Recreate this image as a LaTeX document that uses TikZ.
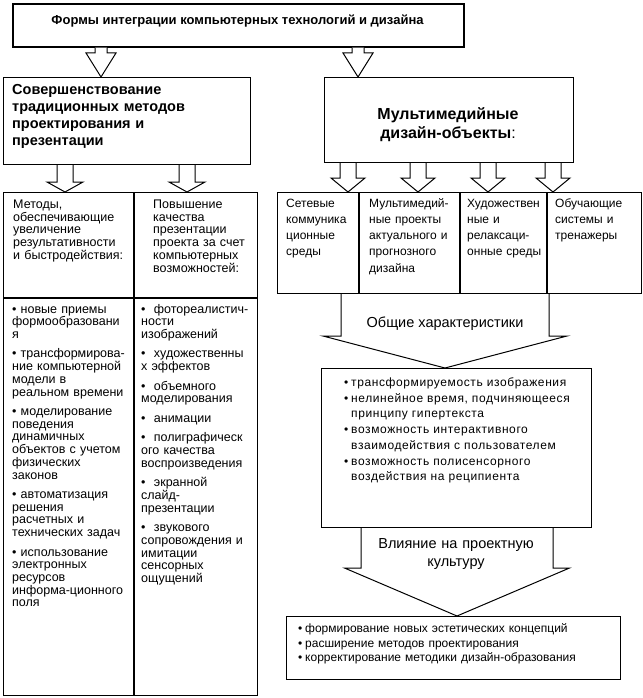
\documentclass[tikz,border=0pt]{standalone}
\usepackage{fontspec}
\setmainfont{Liberation Sans}
\newfontfamily\spacedfont[LetterSpace=5]{Liberation Sans}
\usetikzlibrary{positioning, calc}
\tikzset{
    box/.style={draw, line width=1pt, inner sep=0pt, anchor=north west}, % empty frames, sized by hand
    txt/.style={inner sep=0pt, anchor=base west, align=left, text width=125pt, font=\fontsize{12.5}{12.7}\selectfont},
    cell/.style={txt, text width=95pt, font=\fontsize{12}{16.3}\selectfont},
    barrow/.style={line width=1pt, fill=white}
}
% block arrow: x, from node, to node, shaft half width, head half width, head length
\newcommand{\blockarr}[6]{%
    \draw[barrow] let \p1=(#1,0 |- #2.south), \p2=(#1,0 |- #3.north) in
        (\x1-#4pt,\y1) -- (\x1-#4pt,\y2+#6pt) -- (\x1-#5pt,\y2+#6pt) -- (\x2,\y2)
        -- (\x1+#5pt,\y2+#6pt) -- (\x1+#4pt,\y2+#6pt) -- (\x1+#4pt,\y1);
}
\newcommand{\itm}{\makebox[7pt][l]{•}}
\newcommand{\gap}{\\[6.8pt]}

\begin{document}
\begin{tikzpicture}[x=1pt, y=-1pt]
    \useasboundingbox (0,0) rectangle (642,698);

    \node[box, line width=1.6pt, minimum width=451pt, minimum height=43pt] (title) at (12,3) {};
    \node[box, minimum width=247pt, minimum height=87pt] (impr) at (3,77) {};
    \node[box, minimum width=249pt, minimum height=85pt] (multi) at (324,77) {};

    \node[box, minimum width=130pt, minimum height=105pt] (methods) at (3,192) {};
    \node[box, minimum width=123pt, minimum height=105pt] (quality) [right=0pt of methods] {};
    \node[box, minimum width=130pt, minimum height=397pt] (methlist) [below=0pt of methods] {};
    \node[box, minimum width=123pt, minimum height=397pt] (quallist) [below=0pt of quality] {};

    \node[box, minimum width=81pt, minimum height=101pt] (net) at (277,192) {};
    \node[box, minimum width=100pt, minimum height=101pt] (proj) [right=0pt of net] {};
    \node[box, minimum width=86pt, minimum height=101pt] (art) [right=0pt of proj] {};
    \node[box, minimum width=94pt, minimum height=101pt] (edu) [right=0pt of art] {};

    \node[box, minimum width=270pt, minimum height=159pt] (common) at (321,368) {};
    \node[box, minimum width=334pt, minimum height=63pt] (impact) at (286,616) {};

    \blockarr{101}{title}{impr}{6}{15}{24}
    \blockarr{358}{title}{multi}{6}{15}{24}
    \blockarr{65}{impr}{methods}{8}{18}{10}
    \blockarr{187}{impr}{quality}{8}{18}{10}
    \foreach \ax in {348,418,488,553} {
        \blockarr{\ax}{multi}{net}{8}{17}{14}
    }
    \blockarr{445}{proj}{common}{104}{122}{32}
    \blockarr{457}{common}{impact}{96}{112.5}{48}

    \node[inner sep=0pt, anchor=base, font=\bfseries\fontsize{13}{15}\selectfont] (titletxt) at (237.5,25) {Формы интеграции компьютерных технологий и дизайна};
    \node[txt, text width=235pt, font=\bfseries\fontsize{14.5}{17}\selectfont] (imprtxt) at (12,95) {Совершенствование\\традиционных методов\\проектирования и\\презентации};
    \node[txt, anchor=base, align=center, text width=235pt, font=\bfseries\fontsize{16}{18}\selectfont] (multitxt) at (448,120) {Мультимедийные\\дизайн-объекты\mdseries:};

    \node[txt] (methtxt) at (13,208.5) {Методы,\\обеспечивающие\\увеличение\\результативности\\и быстродействия:};
    \node[txt] (qualtxt) at (153,208.5) {Повышение\\качества\\презентации\\проекта за счет\\компьютерных\\возможностей:};

    \node[txt] (methitems) at (12,313) {• новые приемы\\формообразовани\\я\gap
        • трансформирова-\\ние компьютерной\\модели в\\реальном времени\gap
        • моделирование\\поведения\\динамичных\\объектов с учетом\\физических\\законов\gap
        • автоматизация\\решения\\расчетных и\\технических задач\gap
        • использование\\электронных\\ресурсов\\информа-ционного\\поля};
    \node[txt] (qualitems) at (141,313) {•~ фотореалистич-\\ности\\изображений\gap
        •~ художественны\\х эффектов\gap
        •~ объемного\\моделирования\gap
        •~ анимации\gap
        •~ полиграфическ\\ого качества\\воспроизведения\gap
        •~ экранной\\слайд-\\презентации\gap
        •~ звукового\\сопровождения и\\имитации\\сенсорных\\ощущений};

    \node[cell] (nettxt) at (286,207) {Сетевые\\коммуника\\ционные\\среды};
    \node[cell] (projtxt) at (369,207) {Мультимедий-\\ные проекты\\актуального и\\прогнозного\\дизайна};
    \node[cell] (arttxt) at (467,207) {Художествен\\ные и\\релаксаци-\\онные среды};
    \node[cell] (edutxt) at (555,207) {Обучающие\\системы и\\тренажеры};

    \node[inner sep=0pt, anchor=base, font=\fontsize{14.5}{18}\selectfont] (commonlbl) at (445,327) {Общие характеристики};
    \node[txt, text width=260pt, font=\spacedfont\fontsize{12}{15.7}\selectfont] (commontxt) at (344,386.5) {\itm трансформируемость изображения\\
        \itm нелинейное время, подчиняющееся\\\hspace*{7pt}принципу гипертекста\\
        \itm возможность интерактивного\\\hspace*{7pt}взаимодействия с пользователем\\
        \itm возможность полисенсорного\\\hspace*{7pt}воздействия на реципиента};

    \node[txt, anchor=base, align=center, text width=200pt, font=\fontsize{14.5}{18}\selectfont] (impactlbl) at (456,548) {Влияние на проектную\\культуру};
    \node[txt, text width=320pt, font=\fontsize{12}{14.5}\selectfont] (impacttxt) at (298,632.5) {\itm формирование новых эстетических концепций\\
        \itm расширение методов проектирования\\
        \itm корректирование методики дизайн-образования};
\end{tikzpicture}
\end{document}
